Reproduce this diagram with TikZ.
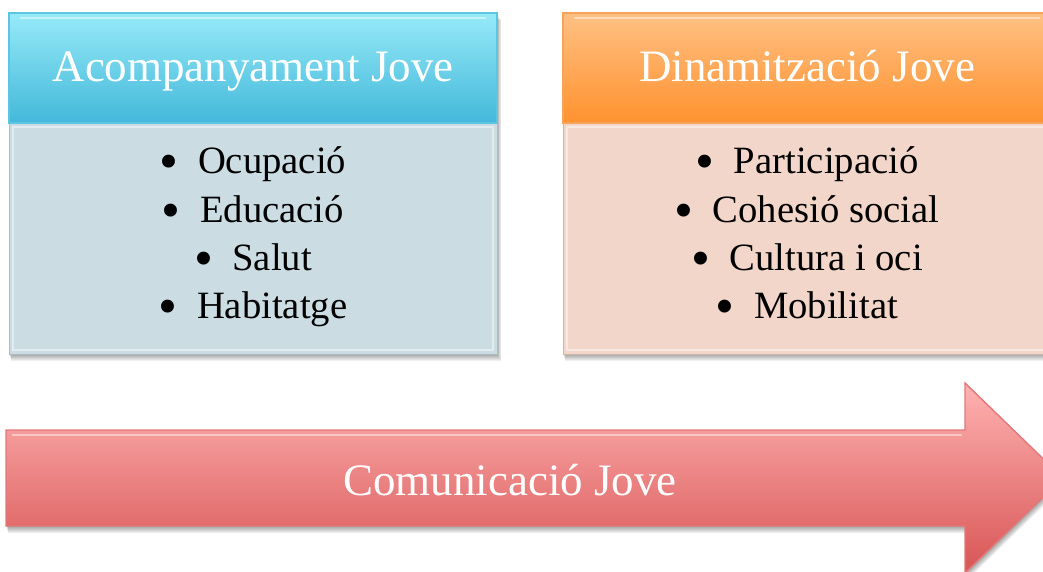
\documentclass[tikz,border=0pt]{standalone}
\usepackage{fontspec}
\setmainfont{Liberation Serif}
\definecolor{blueTop}{HTML}{97EAF8}
\definecolor{blueBot}{HTML}{43B8DA}
\definecolor{blueBody}{HTML}{CBDCE2}
\definecolor{blueEdge}{HTML}{5CC6E2}
\definecolor{orTop}{HTML}{FFC084}
\definecolor{orBot}{HTML}{FF922F}
\definecolor{orBody}{HTML}{F2D6C9}
\definecolor{orEdge}{HTML}{F9A35A}
\definecolor{redTop}{HTML}{FFB2B2}
\definecolor{redBot}{HTML}{D85555}
\definecolor{redEdge}{HTML}{E27878}
\tikzset{
  hdrtext/.style={text=white, inner sep=0pt, anchor=base, font=\fontsize{25.6}{30}\selectfont},
  bodytext/.style={text=black, inner sep=0pt, align=center, anchor=base, font=\fontsize{22}{27.5}\selectfont},
  shadowlayer/.style={fill=black, opacity=0.06},
  bevel/.style={draw=white, opacity=0.45, line width=1.2pt},
}
\newcommand{\bul}[1]{\raisebox{-0.17em}{\scalebox{1.4}{\textbullet}}\hskip0.5em #1}
\begin{document}
\begin{tikzpicture}[x=0.02cm,y=-0.02cm]
\useasboundingbox (0,0) rectangle (1043,571);
\clip (0,0) rectangle (1043,571);
% shadows
\foreach \d in {1,2,3,4,5,6,7}{
  \fill[shadowlayer] (9+\d*0.3,13+\d) rectangle (497+\d*0.6,354+\d);
  \fill[shadowlayer] (563+\d*0.3,13+\d) rectangle (1051+\d*0.6,354+\d);
  \fill[shadowlayer] (6+\d*0.3,430+\d) -- (965+\d*0.3,430+\d) -- (965+\d*0.3,383+\d) -- (1063+\d*0.3,478+\d) -- (965+\d*0.3,573+\d) -- (965+\d*0.3,526+\d) -- (6+\d*0.3,526+\d) -- cycle;
}
% left box
\fill[blueBody] (9,123) rectangle (497,354);
\draw[bevel] (13,127) rectangle (493,350);
\draw[blueBody!85!black, line width=0.5pt] (9,123) rectangle (497,354);
\shade[top color=blueTop, bottom color=blueBot] (9,13) rectangle (497,123);
\draw[bevel] (20,18) -- (486,18);
\draw[blueEdge, line width=0.8pt] (9,13) rectangle (497,123);
% right box
\fill[orBody] (563,123) rectangle (1051,354);
\draw[bevel] (567,127) rectangle (1047,350);
\draw[orBody!85!black, line width=0.5pt] (563,123) rectangle (1051,354);
\shade[top color=orTop, bottom color=orBot] (563,13) rectangle (1051,123);
\draw[bevel] (574,18) -- (1040,18);
\draw[orEdge, line width=0.8pt] (563,13) rectangle (1051,123);
% arrow
\shade[top color=redTop, bottom color=redBot, draw=redEdge, line width=0.8pt]
  (6,430) -- (965,430) -- (965,383) -- (1063,478) -- (965,573) -- (965,526) -- (6,526) -- cycle;
\draw[bevel] (12,435) -- (962,435);
% texts
\node[hdrtext] (h1) at (253,82) {Acompanyament Jove};
\node[hdrtext] (h2) at (807,82) {Dinamització Jove};
\node[bodytext] (a1) at (253,173) {\bul{Ocupació}};
\node[bodytext] (a2) at (253,222) {\bul{Educació}};
\node[bodytext] (a3) at (253,270) {\bul{Salut}};
\node[bodytext] (a4) at (253,318) {\bul{Habitatge}};
\node[bodytext] (b1) at (807,173) {\bul{Participació}};
\node[bodytext] (b2) at (807,222) {\bul{Cohesió social}};
\node[bodytext] (b3) at (807,270) {\bul{Cultura i oci}};
\node[bodytext] (b4) at (807,318) {\bul{Mobilitat}};
\node[hdrtext] (c1) at (510,495) {Comunicació Jove};
\end{tikzpicture}
\end{document}
